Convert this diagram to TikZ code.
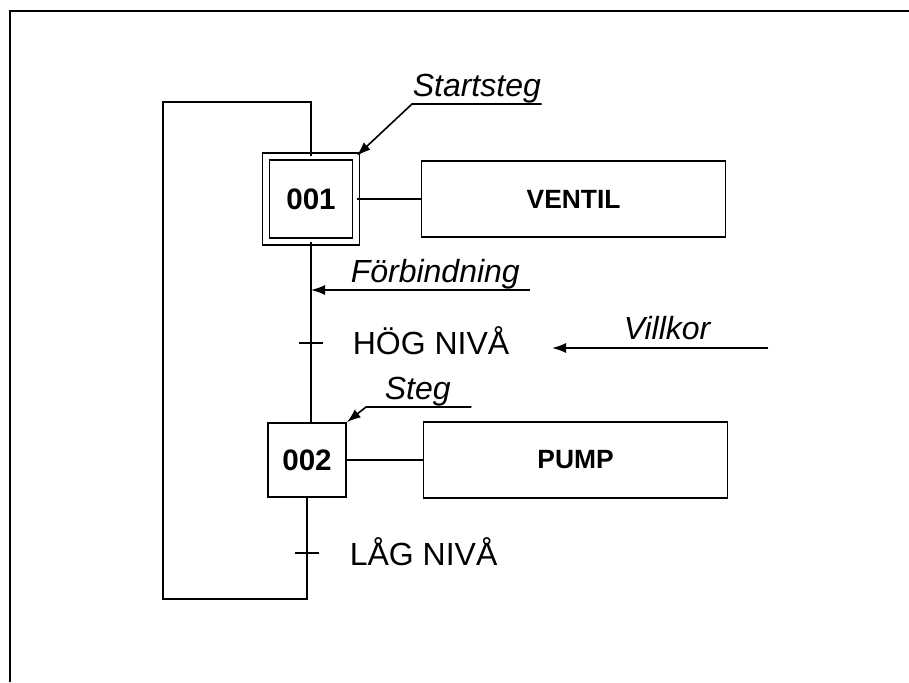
\documentclass[tikz,border=0pt]{standalone}
\usepackage{fontspec}
\setmainfont{Liberation Sans}
\usepackage{tikz}
\usetikzlibrary{positioning,arrows.meta}

\begin{document}
\begin{tikzpicture}[
  x=0.5pt, y=-0.5pt,
  line width=0.8pt,
  stepbox/.style={draw, minimum width=39pt, minimum height=37pt, inner sep=0pt, font=\fontsize{14.8}{17}\selectfont\bfseries},
  initbox/.style={stepbox, double, double distance=2.7pt, minimum width=45pt, minimum height=42.5pt},
  actbox/.style={draw, minimum width=152pt, minimum height=38pt, inner sep=0pt, font=\fontsize{13.2}{16}\selectfont\bfseries},
  cond/.style={inner sep=0pt, font=\fontsize{16}{19}\selectfont},
  note/.style={inner sep=0pt, font=\fontsize{16}{19}\selectfont\itshape},
  arrow/.style={-{Latex[length=7pt,width=5pt]}},
  frame/.style={line width=1.3pt},
]
\useasboundingbox (0,0) rectangle (909,682);
\node[initbox] (s1) at (311,199) {001};
\node[actbox, right=32pt of s1] (ventil) {VENTIL};
\node[stepbox] (s2) at (307,460) {002};
\node[actbox, right=38pt of s2] (pump) {PUMP};
\node[cond, anchor=west] (hog) at (352,341) {HÖG NIVÅ};
\node[cond, anchor=west] (lag) at (349,552) {LÅG NIVÅ};
\node[note, anchor=south west] (startlbl) at (412,104) {Startsteg};
\node[note, anchor=south west] (forblbl) at (350,290) {Förbindning};
\node[note, anchor=base west] (villlbl) at (623,339) {Villkor};
\node[note, anchor=south west] (steglbl) at (384,407) {Steg};
\coordinate (t1) at (311,343);
\coordinate (t2) at (307,553);
\coordinate (looptl) at (163,102);
\coordinate (loopbl) at (163,599);
\coordinate (forbend) at ([xshift=4.5pt]forblbl.south east);
\coordinate (villend) at (768,348);
\coordinate (villtip) at (552,348);
\coordinate (stegend) at ([xshift=10pt]steglbl.south east);
\coordinate (stegbend) at ([xshift=-9pt]steglbl.south west);
\draw (s1.east) -- (ventil.west);
\draw (s2.east) -- (pump.west);
\draw (s1.south) -- (s1.south |- s2.north);
\draw (s2.south) |- (loopbl) -- (looptl) -| (s1.north);
\draw (t1) ++(-12,0) -- ++(24,0);
\draw (t2) ++(-12,0) -- ++(24,0);
\draw[arrow] (startlbl.south east) -- (startlbl.south west) -- (s1.north east);
\draw[arrow] (forbend) -- (forbend -| s1.south);
\draw[arrow] (villend) -- (villtip);
\draw[arrow] (stegend) -- (stegbend) -- (s2.north east);
\draw[frame] (909,11) -- (10,11) -- (10,682);
\end{tikzpicture}
\end{document}
